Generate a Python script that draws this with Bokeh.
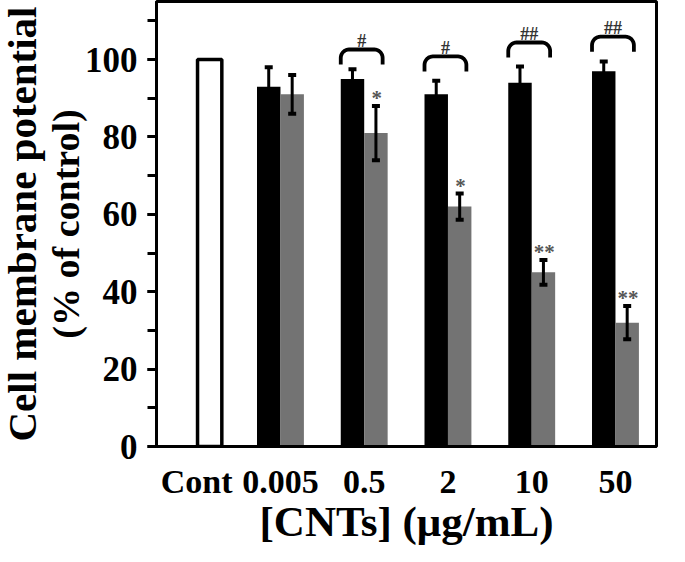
from bokeh.plotting import figure
from bokeh.models import Range1d, SingleIntervalTicker, FixedTicker, Title
from bokeh.core.properties import value
from bokeh.embed import file_html
from bokeh.resources import INLINE
import numpy as np

# ---------------- data ----------------
tick_labels = ["Cont", "0.005", "0.5", "2", "10", "50"]
control_value = [100]
black_mean = [93, 95, 91, 94, 97]
black_err = [5, 2.5, 3.5, 4.2, 2.5]
gray_mean = [91, 81, 62, 45, 32]
gray_err = [5, 7, 3.4, 3.2, 4.3]
gray_sig = ["", "*", "*", "**", "**"]
pair_sig = ["", "#", "#", "##", "##"]
bracket_top = [None, 102.6, 100.8, 104.4, 105.9]
y_title_lines = ["Cell membrane potential", "(% of control)"]
x_title = "[CNTs] (\u03bcg/mL)"

# ---------------- style ----------------
FONT = "Liberation Serif"
BLACK = "#000000"
GRAY = "#737373"
BAR_W = 0.28
CONT_OFFSET = 0.155
CONT_W = 0.29

p = figure(width=669, height=546, x_range=Range1d(-0.48, 5.49), y_range=Range1d(0, 115),
           output_backend="svg", toolbar_location=None,
           min_border_left=150, min_border_right=13, min_border_top=1, min_border_bottom=100)
p.xgrid.visible = False
p.ygrid.visible = False
p.outline_line_color = "black"
p.outline_line_width = 3
p.background_fill_color = "white"
p.border_fill_color = "white"

# axes
xa = p.xaxis[0]
xa.ticker = FixedTicker(ticks=list(range(len(tick_labels))))
xa.major_label_overrides = {i: t for i, t in enumerate(tick_labels)}
xa.major_tick_out = 0
xa.major_tick_in = 0
xa.minor_tick_out = 0
xa.minor_tick_in = 0
xa.axis_line_width = 3
xa.axis_line_color = "black"
xa.major_label_standoff = 16
xa.major_label_text_font = FONT
xa.major_label_text_font_style = "bold"
xa.major_label_text_font_size = "34px"
xa.major_label_text_color = "black"

ya = p.yaxis[0]
ya.ticker = SingleIntervalTicker(interval=20, num_minor_ticks=2)
ya.major_tick_out = 9
ya.major_tick_in = 0
ya.minor_tick_out = 9
ya.minor_tick_in = 0
ya.major_tick_line_width = 3
ya.minor_tick_line_width = 3
ya.major_tick_line_color = "black"
ya.minor_tick_line_color = "black"
ya.axis_line_width = 3
ya.axis_line_color = "black"
ya.major_label_standoff = 10
ya.major_label_text_font = FONT
ya.major_label_text_font_style = "bold"
ya.major_label_text_font_size = "35px"
ya.major_label_text_color = "black"
ya.axis_label = y_title_lines[1]
ya.axis_label_text_font = FONT
ya.axis_label_text_font_style = "bold"
ya.axis_label_text_font_size = "38px"
ya.axis_label_standoff = -5
ya.axis_label_text_color = "black"

p.add_layout(Title(text=y_title_lines[0], align="center", offset=-9, standoff=-7,
                   text_font=FONT, text_font_style="bold", text_font_size="41px",
                   text_color="black"), "left")
p.add_layout(Title(text=x_title, align="center", offset=-26, standoff=-14,
                   text_font=FONT, text_font_style="bold", text_font_size="43px",
                   text_color="black"), "below")

# bars
groups = np.arange(1, len(tick_labels))
p.vbar(x=[0 + CONT_OFFSET], top=control_value, width=CONT_W, fill_color="white",
       line_color="black", line_width=3.5)
p.vbar(x=groups - BAR_W / 2, top=black_mean, width=BAR_W, fill_color=BLACK, line_color=None)
p.vbar(x=groups + BAR_W / 2, top=gray_mean, width=BAR_W, fill_color=GRAY, line_color=None)

# error bars
for xs, m, e in [(groups - BAR_W / 2, black_mean, black_err), (groups + BAR_W / 2, gray_mean, gray_err)]:
    m = np.array(m, float); e = np.array(e, float)
    p.segment(x0=xs, x1=xs, y0=m - e, y1=m + e, line_color="black", line_width=3)
    p.rect(x=np.concatenate([xs, xs]), y=np.concatenate([m + e, m - e]), width=8, height=4,
           width_units="screen", height_units="screen", fill_color="black", line_color=None)

# asterisks above gray bars
gs = [(g + BAR_W / 2 + 0.01, m + e + 2.0, s) for g, m, e, s in zip(groups, gray_mean, gray_err, gray_sig) if s]
p.text(x=[a[0] for a in gs], y=[a[1] for a in gs], text=[a[2] for a in gs],
       text_font=value(FONT), text_font_size="21px", text_font_style="bold", text_color="#555555",
       text_align="center", text_baseline="alphabetic")

# brackets with #
bxs, bys, hx, hy, ht = [], [], [], [], []
rx, ry, leg = 0.1, 2.2, 3.9
for g, yt, s in zip(groups, bracket_top, pair_sig):
    if not s:
        continue
    x0, x1 = g - 0.28, g + 0.22
    t = np.linspace(0, np.pi / 2, 10)
    lx = list(x0 + rx - rx * np.cos(t)); ly = list(yt - ry + ry * np.sin(t))
    rxs = list(x1 - rx + rx * np.sin(t)); rys = list(yt - ry + ry * np.cos(t))
    bxs.append([x0] + lx + rxs + [x1])
    bys.append([yt - leg] + ly + rys + [yt - leg])
    hx.append((x0 + x1) / 2); hy.append(yt + 2.3); ht.append(s)
p.multi_line(xs=bxs, ys=bys, line_color="black", line_width=3.8, line_join="round")
p.text(x=hx, y=hy, text=ht, text_font=value(FONT), text_font_size="18px", text_font_style="bold",
       text_color="#333333", text_align="center", text_baseline="alphabetic")

open("out.html", "w").write(file_html(p, INLINE))
